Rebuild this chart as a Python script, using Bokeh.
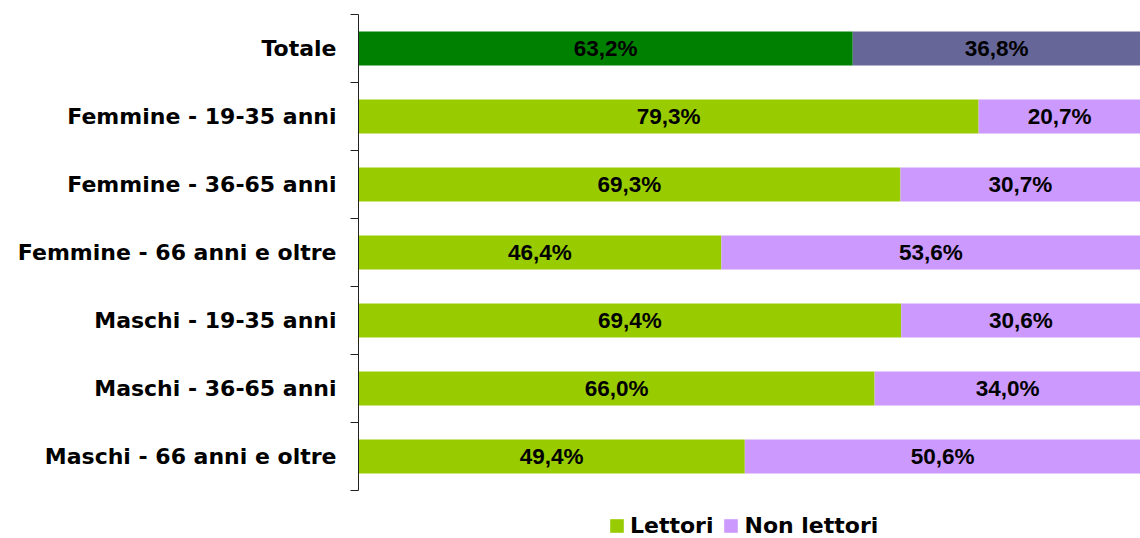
from bokeh.plotting import figure
from bokeh.models import ColumnDataSource, FixedTicker, Range1d, Legend, LegendItem
from bokeh.core.properties import value
from bokeh.embed import file_html
from bokeh.resources import INLINE

categories = ["Totale", "Femmine - 19-35 anni", "Femmine - 36-65 anni",
              "Femmine - 66 anni e oltre", "Maschi - 19-35 anni",
              "Maschi - 36-65 anni", "Maschi - 66 anni e oltre"]
lettori = [63.2, 79.3, 69.3, 46.4, 69.4, 66.0, 49.4]
non_lettori = [36.8, 20.7, 30.7, 53.6, 30.6, 34.0, 50.6]
col_lettori = ["#008000", "#99CC00", "#99CC00", "#99CC00", "#99CC00", "#99CC00", "#99CC00"]
col_non = ["#666699", "#CC99FF", "#CC99FF", "#CC99FF", "#CC99FF", "#CC99FF", "#CC99FF"]

n = len(categories)
ypos = [n - i - 0.5 for i in range(n)]
fmt = lambda v: f"{v:.1f}".replace(".", ",") + "%"

src = ColumnDataSource(dict(
    y=ypos,
    lett=lettori,
    non=non_lettori,
    total=[a + b for a, b in zip(lettori, non_lettori)],
    cl=col_lettori,
    cn=col_non,
    xl=[a / 2 for a in lettori],
    xn=[a + b / 2 for a, b in zip(lettori, non_lettori)],
    tl=[fmt(v) for v in lettori],
    tn=[fmt(v) for v in non_lettori],
))

FONT = "Liberation Sans"
CFONT = "DejaVu Sans"

p = figure(width=1140, height=538, output_backend="svg", toolbar_location=None,
           x_range=Range1d(0, 100), y_range=Range1d(-0.706, n),
           min_border_left=358, min_border_right=0, min_border_top=14,
           min_border_bottom=0)
p.outline_line_color = None
p.xgrid.visible = False
p.ygrid.visible = False
p.xaxis.visible = False

r1 = p.hbar(y="y", left=0, right="lett", height=0.5, fill_color="cl", line_color=None, source=src)
r2 = p.hbar(y="y", left="lett", right="total", height=0.5, fill_color="cn", line_color=None, source=src)

p.text(x="xl", y="y", text="tl", source=src, text_align="center", text_baseline="middle",
       text_font=value(FONT), text_font_style="bold", text_font_size="22.5px", text_color="black")
p.text(x="xn", y="y", text="tn", source=src, text_align="center", text_baseline="middle",
       text_font=value(FONT), text_font_style="bold", text_font_size="22.5px", text_color="black")

ax = p.yaxis[0]
ax.bounds = (0, n)
ax.ticker = FixedTicker(ticks=ypos, minor_ticks=list(range(n + 1)))
ax.major_label_overrides = {y: c for y, c in zip(ypos, categories)}
ax.major_tick_line_color = None
ax.major_tick_out = 8
ax.major_tick_in = 0
ax.minor_tick_out = 8
ax.minor_tick_in = 0
ax.minor_tick_line_color = "#222222"
ax.axis_line_color = "#222222"
ax.major_label_standoff = 14
ax.major_label_text_font = CFONT
ax.major_label_text_font_style = "bold"
ax.major_label_text_font_size = "22px"
ax.major_label_text_color = "black"

legend = Legend(items=[
    LegendItem(label="Lettori", renderers=[r1], index=1),
    LegendItem(label="Non lettori", renderers=[r2], index=1),
], orientation="horizontal", location=(250, 0))
legend.label_text_font = CFONT
legend.label_text_font_style = "bold"
legend.label_text_font_size = "22px"
legend.label_text_color = "black"
legend.glyph_width = 17
legend.glyph_height = 17
legend.spacing = 9
legend.label_standoff = 5
legend.border_line_color = None
legend.background_fill_alpha = 0
legend.margin = 0
legend.padding = 0
p.add_layout(legend, "center")

open("out.html", "w").write(file_html(p, INLINE))
